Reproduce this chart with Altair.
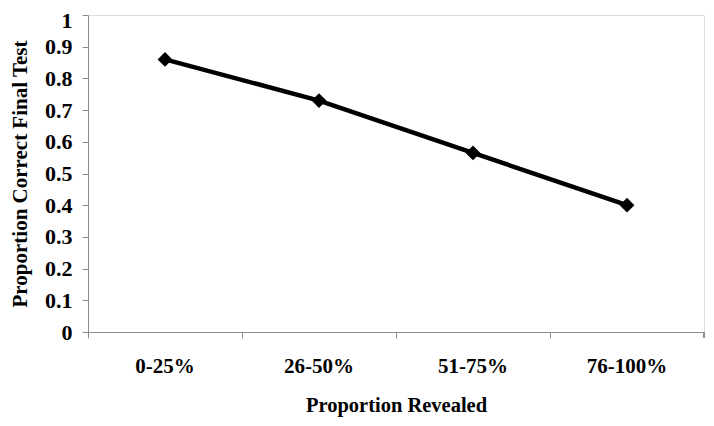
import altair as alt
import pandas as pd

categories = ["0-25%", "26-50%", "51-75%", "76-100%"]
values = [0.86, 0.73, 0.565, 0.40]
y_ticks = [0, 0.1, 0.2, 0.3, 0.4, 0.5, 0.6, 0.7, 0.8, 0.9, 1]

df = pd.DataFrame({"cat": categories, "val": values})

FONT = "Liberation Serif"
GRAY = "#8c8c8c"

x_enc = alt.X(
    "cat:N",
    sort=categories,
    scale=alt.Scale(type="band", paddingInner=0, paddingOuter=0),
    axis=alt.Axis(
        title="Proportion Revealed",
        labelAngle=0,
        bandPosition=0,
        tickSize=6,
        labelPadding=17,
        titlePadding=19,
        labelOverlap=False,
        domainColor=GRAY,
        tickColor=GRAY,
        labelFont=FONT,
        titleFont=FONT,
        labelFontSize=21,
        titleFontSize=20.5,
        labelFontWeight="bold",
        titleFontWeight="bold",
        labelColor="black",
        titleColor="black",
        grid=False,
    ),
)
y_enc = alt.Y(
    "val:Q",
    scale=alt.Scale(domain=[0, 1], nice=False, zero=True),
    axis=alt.Axis(
        title="Proportion Correct Final Test",
        values=y_ticks,
        format="~g",
        tickSize=6,
        labelPadding=10,
        titlePadding=14,
        labelOverlap=False,
        labelOffset=alt.ExprRef("datum.value == 1 ? 5 : 0"),
        domainColor=GRAY,
        tickColor=GRAY,
        labelFont=FONT,
        titleFont=FONT,
        labelFontSize=22,
        titleFontSize=21,
        labelFontWeight="bold",
        titleFontWeight="bold",
        labelColor="black",
        titleColor="black",
        grid=False,
    ),
)

line = alt.Chart(df).mark_line(color="black", strokeWidth=4.5).encode(x=x_enc, y=y_enc)
pts = alt.Chart(df).mark_point(
    shape="diamond", filled=True, color="black", size=220, opacity=1
).encode(x=x_enc, y=y_enc)

end_tick = alt.Chart(df).mark_rule(color=GRAY, strokeWidth=1).encode(
    x=alt.value(616), y=alt.value(317), y2=alt.value(323)
)

chart = (
    alt.layer(line, pts, end_tick)
    .properties(
        width=616,
        height=317,
        autosize=alt.AutoSizeParams(type="none"),
        padding={"left": 80, "top": 7, "right": 2, "bottom": 86},
    )
    .configure_view(stroke=None)
    .configure(background="white")
)

chart.save("out.html", embed_options={"renderer": "svg", "actions": False})
